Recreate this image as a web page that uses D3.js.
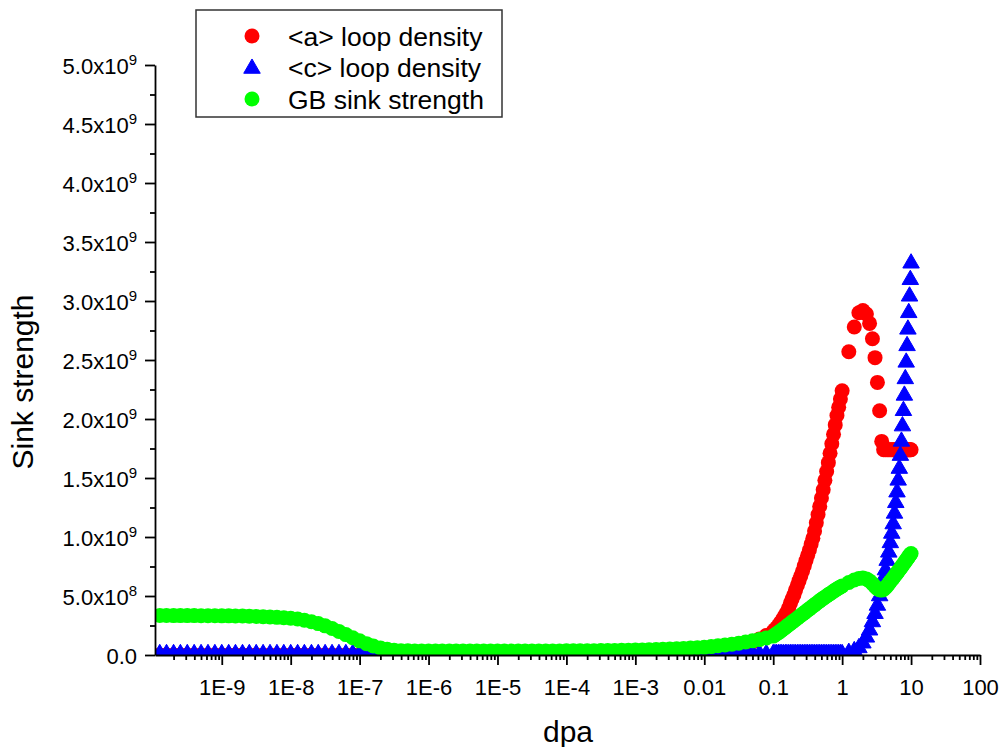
<!DOCTYPE html>
<html>
<head>
<meta charset="utf-8">
<script src="https://cdn.jsdelivr.net/npm/d3@7/dist/d3.min.js"></script>
<style>
  html, body { margin: 0; padding: 0; background: #fff; }
  svg { display: block; }
  text { font-family: "Liberation Sans", Arial, Helvetica, sans-serif; fill: #000; }
</style>
</head>
<body>
<svg id="chart" width="1001" height="747"></svg>
<script>
// Damage dose (dpa) sampling: ten points per decade up to 0.1 dpa,
// finer steps from 0.1 to 1 dpa, then 0.25 dpa steps up to 10 dpa.
const dpa = [
  1e-10, 1.26e-10, 1.58e-10, 2e-10, 2.51e-10, 3.16e-10, 3.98e-10, 5.01e-10, 6.31e-10, 7.94e-10,
  1e-9, 1.26e-9, 1.58e-9, 2e-9, 2.51e-9, 3.16e-9, 3.98e-9, 5.01e-9, 6.31e-9, 7.94e-9,
  1e-8, 1.26e-8, 1.58e-8, 2e-8, 2.51e-8, 3.16e-8, 3.98e-8, 5.01e-8, 6.31e-8, 7.94e-8,
  1e-7, 1.26e-7, 1.58e-7, 2e-7, 2.51e-7, 3.16e-7, 3.98e-7, 5.01e-7, 6.31e-7, 7.94e-7,
  1e-6, 1.26e-6, 1.58e-6, 2e-6, 2.51e-6, 3.16e-6, 3.98e-6, 5.01e-6, 6.31e-6, 7.94e-6,
  1e-5, 1.26e-5, 1.58e-5, 2e-5, 2.51e-5, 3.16e-5, 3.98e-5, 5.01e-5, 6.31e-5, 7.94e-5,
  1e-4, 1.26e-4, 1.58e-4, 2e-4, 2.51e-4, 3.16e-4, 3.98e-4, 5.01e-4, 6.31e-4, 7.94e-4,
  1e-3, 1.26e-3, 1.58e-3, 2e-3, 2.51e-3, 3.16e-3, 3.98e-3, 5.01e-3, 6.31e-3, 7.94e-3,
  1e-2, 1.26e-2, 1.58e-2, 2e-2, 2.51e-2, 3.16e-2, 3.98e-2, 5.01e-2, 6.31e-2, 7.94e-2,
  0.100, 0.106, 0.112, 0.119, 0.126, 0.133, 0.141, 0.150, 0.158, 0.168,
  0.178, 0.188, 0.200, 0.211, 0.224, 0.237, 0.251, 0.266, 0.282, 0.299,
  0.316, 0.335, 0.355, 0.376, 0.398, 0.422, 0.447, 0.473, 0.501, 0.531,
  0.562, 0.596, 0.631, 0.668, 0.708, 0.750, 0.794, 0.841, 0.891, 0.944,
  1.00,
  1.25, 1.50, 1.75, 2.00, 2.25, 2.50, 2.75, 3.00, 3.25, 3.50, 3.75, 4.00,
  4.25, 4.50, 4.75, 5.00, 5.25, 5.50, 5.75, 6.00, 6.25, 6.50, 6.75, 7.00,
  7.25, 7.50, 7.75, 8.00, 8.25, 8.50, 8.75, 9.00, 9.25, 9.50, 9.75, 10.00
];

// Sink strength, in units of 1e9
const aLoop = [
  0, 0, 0, 0, 0, 0, 0, 0, 0, 0,
  0, 0, 0, 0, 0, 0, 0, 0, 0, 0,
  0, 0, 0, 0, 0, 0, 0, 0, 0, 0,
  0, 0, 0, 0, 0, 0, 0, 0, 0, 0,
  0, 0, 0, 0, 0, 0, 0, 0, 0, 0,
  0, 0, 0, 0, 0, 0, 0, 0, 0, 0,
  0, 0, 0, 0, 0, 0, 0, 0, 0, 0,
  0.004, 0.005, 0.006, 0.007, 0.008, 0.010, 0.012, 0.015, 0.018, 0.021,
  0.025, 0.031, 0.039, 0.048, 0.060, 0.074, 0.090, 0.110, 0.135, 0.165,
  0.200, 0.215, 0.230, 0.250, 0.270, 0.290, 0.315, 0.340, 0.365, 0.400,
  0.440, 0.475, 0.510, 0.550, 0.590, 0.630, 0.670, 0.710, 0.755, 0.800,
  0.845, 0.890, 0.940, 0.990, 1.050, 1.120, 1.190, 1.260, 1.330, 1.400,
  1.480, 1.555, 1.630, 1.710, 1.790, 1.870, 1.950, 2.030, 2.100, 2.170,
  2.240,
  2.57, 2.78, 2.90, 2.92, 2.89, 2.81, 2.68, 2.52, 2.31, 2.07, 1.81, 1.74,
  1.74, 1.74, 1.74, 1.74, 1.74, 1.74, 1.74, 1.74, 1.74, 1.74, 1.74, 1.74,
  1.74, 1.74, 1.74, 1.74, 1.74, 1.74, 1.74, 1.74, 1.74, 1.74, 1.74, 1.74
];

const cLoop = [
  0.01, 0.01, 0.01, 0.01, 0.01, 0.01, 0.01, 0.01, 0.01, 0.01,
  0.01, 0.01, 0.01, 0.01, 0.01, 0.01, 0.01, 0.01, 0.01, 0.01,
  0.01, 0.01, 0.01, 0.01, 0.01, 0.01, 0.01, 0.01, 0.01, 0.01,
  0.01, 0.01, 0.01, 0.01, 0.01, 0.01, 0.01, 0.01, 0.01, 0.01,
  0.01, 0.01, 0.01, 0.01, 0.01, 0.01, 0.01, 0.01, 0.01, 0.01,
  0.01, 0.01, 0.01, 0.01, 0.01, 0.01, 0.01, 0.01, 0.01, 0.01,
  0.01, 0.01, 0.01, 0.01, 0.01, 0.01, 0.01, 0.01, 0.01, 0.01,
  0.01, 0.01, 0.01, 0.01, 0.01, 0.01, 0.01, 0.01, 0.01, 0.01,
  0.01, 0.01, 0.01, 0.01, 0.01, 0.01, 0.01, 0.01, 0.01, 0.01,
  0.01, 0.01, 0.01, 0.01, 0.01, 0.01, 0.01, 0.01, 0.01, 0.01,
  0.01, 0.01, 0.01, 0.01, 0.01, 0.01, 0.01, 0.01, 0.01, 0.01,
  0.01, 0.01, 0.01, 0.01, 0.01, 0.01, 0.01, 0.01, 0.01, 0.01,
  0.01, 0.01, 0.01, 0.01, 0.01, 0.01, 0.01, 0.01, 0.01, 0.01,
  0.01,
  0.020, 0.035, 0.060, 0.100, 0.150, 0.210, 0.280, 0.350, 0.420, 0.500, 0.570, 0.650,
  0.720, 0.800, 0.870, 0.950, 1.030, 1.110, 1.200, 1.290, 1.380, 1.480, 1.580, 1.690,
  1.810, 1.940, 2.070, 2.200, 2.340, 2.480, 2.620, 2.760, 2.900, 3.040, 3.180, 3.320
];

const gbSink = [
  0.335, 0.335, 0.335, 0.334, 0.334, 0.334, 0.334, 0.333, 0.333, 0.333,
  0.332, 0.332, 0.331, 0.330, 0.329, 0.327, 0.325, 0.322, 0.319, 0.316,
  0.312, 0.305, 0.295, 0.282, 0.266, 0.247, 0.225, 0.200, 0.173, 0.146,
  0.120, 0.096, 0.076, 0.060, 0.048, 0.041, 0.037, 0.035, 0.034, 0.034,
  0.033, 0.033, 0.033, 0.033, 0.033, 0.033, 0.033, 0.033, 0.033, 0.033,
  0.033, 0.033, 0.033, 0.033, 0.033, 0.033, 0.033, 0.033, 0.033, 0.033,
  0.035, 0.035, 0.036, 0.036, 0.037, 0.038, 0.038, 0.039, 0.040, 0.041,
  0.042, 0.043, 0.045, 0.047, 0.049, 0.051, 0.053, 0.056, 0.059, 0.062,
  0.065, 0.071, 0.078, 0.085, 0.092, 0.100, 0.110, 0.120, 0.132, 0.145,
  0.160, 0.170, 0.180, 0.190, 0.200, 0.211, 0.222, 0.233, 0.245, 0.256,
  0.267, 0.279, 0.290, 0.301, 0.312, 0.324, 0.335, 0.346, 0.357, 0.369,
  0.380, 0.391, 0.402, 0.414, 0.425, 0.436, 0.447, 0.459, 0.470, 0.480,
  0.490, 0.500, 0.510, 0.520, 0.530, 0.540, 0.550, 0.559, 0.568, 0.577,
  0.585,
  0.615, 0.635, 0.648, 0.652, 0.645, 0.628, 0.605, 0.580, 0.562, 0.552, 0.550, 0.556,
  0.570, 0.587, 0.605, 0.622, 0.638, 0.653, 0.668, 0.682, 0.696, 0.709, 0.722, 0.735,
  0.747, 0.759, 0.771, 0.782, 0.793, 0.804, 0.814, 0.824, 0.834, 0.843, 0.852, 0.860
];

const seriesNames = ["<a> loop density", "<c> loop density", "GB sink strength"];
const seriesColors = ["#ff0000", "#0000ff", "#00ff00"];

const xMajorTicks = [1e-9, 1e-8, 1e-7, 1e-6, 1e-5, 1e-4, 1e-3, 1e-2, 1e-1, 1, 10, 100];
const xTickLabels = ["1E-9", "1E-8", "1E-7", "1E-6", "1E-5", "1E-4", "1E-3", "0.01", "0.1", "1", "10", "100"];
const yMajorTicks = [0, 0.5, 1, 1.5, 2, 2.5, 3, 3.5, 4, 4.5, 5];
const yUnit = 1e9;

const svg = d3.select("#chart");
const W = 1001, H = 747;
const plot = { left: 155, right: 980, top: 65, bottom: 655 };

svg.append("rect").attr("width", W).attr("height", H).attr("fill", "#fff");

const x = d3.scaleLog().domain([1.075e-10, 100]).range([plot.left, plot.right]);
const y = d3.scaleLinear().domain([0, 5]).range([plot.bottom, plot.top]);

svg.append("defs").append("clipPath").attr("id", "plot-clip")
  .append("rect")
  .attr("x", plot.left).attr("y", plot.top)
  .attr("width", plot.right - plot.left).attr("height", plot.bottom - plot.top);

const marks = svg.append("g").attr("clip-path", "url(#plot-clip)");

function rows(values) {
  return dpa.map((d, i) => ({ dpa: d, v: values[i] }));
}

const circleR = 7.5;
const triangle = d3.symbol().type(d3.symbolTriangle).size(118);

// <a> loop density
marks.append("g").selectAll("circle")
  .data(rows(aLoop)).join("circle")
  .attr("cx", d => x(d.dpa)).attr("cy", d => y(d.v))
  .attr("r", circleR).attr("fill", seriesColors[0]);

// <c> loop density
marks.append("g").selectAll("path")
  .data(rows(cLoop)).join("path")
  .attr("transform", d => `translate(${x(d.dpa)},${y(d.v)})`)
  .attr("d", triangle)
  .attr("fill", seriesColors[1])
  .attr("stroke", seriesColors[1]).attr("stroke-width", 1)
  .attr("stroke-linejoin", "miter");

// GB sink strength
marks.append("g").selectAll("circle")
  .data(rows(gbSink)).join("circle")
  .attr("cx", d => x(d.dpa)).attr("cy", d => y(d.v))
  .attr("r", circleR).attr("fill", seriesColors[2]);

// ---- axes ----
const axisColor = "#000";
const lineW = 1.8;

// minor ticks on the log axis: 2..9 within each decade
const xMinorTicks = [];
for (let e = -10; e <= 1; e++) {
  for (let m = 2; m <= 9; m++) {
    const v = m * Math.pow(10, e);
    if (v >= x.domain()[0] && v <= x.domain()[1]) xMinorTicks.push(v);
  }
}
const yMinorTicks = yMajorTicks.slice(0, -1).map(v => v + 0.25);

const gx = svg.append("g").attr("transform", `translate(0,${plot.bottom})`);
gx.call(d3.axisBottom(x).tickValues(xMinorTicks).tickSize(5).tickSizeOuter(0).tickFormat(""));
gx.call(g => g.selectAll(".tick text").remove());
const gxMajor = svg.append("g").attr("transform", `translate(0,${plot.bottom})`)
  .call(d3.axisBottom(x).tickValues(xMajorTicks).tickSize(10).tickSizeOuter(0)
    .tickFormat((d, i) => xTickLabels[i]));
gxMajor.select(".domain").remove();
gxMajor.selectAll(".tick text")
  .attr("y", 40).attr("dy", null)
  .attr("font-size", 22).attr("font-family", null);

const gy = svg.append("g").attr("transform", `translate(${plot.left},0)`);
gy.call(d3.axisLeft(y).tickValues(yMinorTicks).tickSize(5).tickSizeOuter(0).tickFormat(""));
gy.call(g => g.selectAll(".tick text").remove());
const gyMajor = svg.append("g").attr("transform", `translate(${plot.left},0)`)
  .call(d3.axisLeft(y).tickValues(yMajorTicks).tickSize(10).tickSizeOuter(0).tickFormat(""));
gyMajor.select(".domain").remove();
gyMajor.selectAll(".tick text").each(function (d) {
  const t = d3.select(this)
    .attr("x", -18).attr("y", 8).attr("dy", null)
    .attr("font-size", 22).attr("font-family", null)
    .attr("text-anchor", "end");
  t.text(null);
  if (d === 0) {
    t.append("tspan").text("0.0");
    return;
  }
  const val = d * yUnit;
  const exp = Math.floor(Math.log10(val) + 1e-9);
  const mant = val / Math.pow(10, exp);
  t.append("tspan").text(mant.toFixed(1) + "x10");
  t.append("tspan").attr("font-size", 15).attr("dy", -9).text(exp);
});

svg.selectAll(".domain, .tick line")
  .attr("stroke", axisColor).attr("stroke-width", lineW);
svg.selectAll(".tick text").attr("fill", "#000");

// axis titles
svg.append("text")
  .attr("x", 568).attr("y", 742)
  .attr("text-anchor", "middle").attr("font-size", 30)
  .text("dpa");
svg.append("text")
  .attr("transform", "translate(33,382) rotate(-90)")
  .attr("text-anchor", "middle").attr("font-size", 30)
  .text("Sink strength");

// ---- legend ----
const legend = svg.append("g");
legend.append("rect")
  .attr("x", 196).attr("y", 10).attr("width", 306).attr("height", 107)
  .attr("fill", "#fff").attr("stroke", "#333").attr("stroke-width", 1.5);
const legendRows = [36, 67.5, 99];
seriesNames.forEach((name, i) => {
  const ly = legendRows[i];
  if (i === 1) {
    legend.append("path")
      .attr("transform", `translate(252,${ly + 1})`)
      .attr("d", triangle)
      .attr("fill", seriesColors[i]).attr("stroke", seriesColors[i]).attr("stroke-width", 1);
  } else {
    legend.append("circle").attr("cx", 252).attr("cy", ly).attr("r", circleR)
      .attr("fill", seriesColors[i]);
  }
  legend.append("text")
    .attr("x", 288).attr("y", ly + 9.5)
    .attr("font-size", 26.5)
    .text(name);
});
</script>
</body>
</html>
